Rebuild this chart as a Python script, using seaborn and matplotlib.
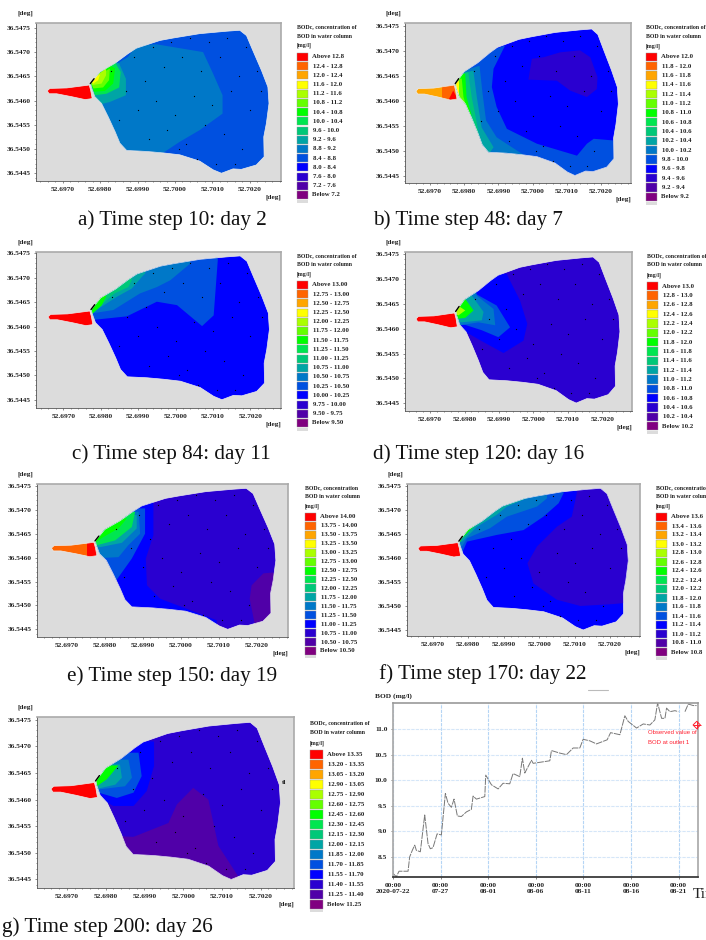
import matplotlib
matplotlib.use("Agg")
import matplotlib.pyplot as plt
import pandas as pd
import seaborn as sns
from matplotlib.lines import Line2D
from matplotlib.patches import Polygon, Rectangle

sns.set_theme(style="white")
plt.rcParams['font.family'] = ['Liberation Serif', 'DejaVu Serif']

W, H = 706, 940

# legend colours, index = legend row (0 = Above ... 15 = Below)
LEVEL_COLORS = ['#ff0000', '#ff6400', '#ffa500', '#ffff00', '#aaff00', '#64ff00', '#00ff00', '#00e650',
                '#00c878', '#00a5a5', '#0078c8', '#0050e0', '#0000ff', '#2a00d0', '#5000a8', '#800080']

# coordinates below: lon = 52.69 + x/1000, lat = 36.54 + y/1000 (milli-degrees)
CHANNEL = [(6.59, 6.20), (6.66, 6.25), (7.11, 6.26), (7.71, 6.32), (7.75, 6.21), (7.79, 6.04),
           (7.60, 6.02), (7.24, 6.08), (6.84, 6.14), (6.64, 6.14)]
LAKE = [(7.75, 6.35), (8.00, 6.59), (8.40, 6.77), (8.75, 6.97), (8.97, 7.08), (9.60, 7.24), (9.95, 7.29),
        (10.66, 7.38), (11.37, 7.43), (11.73, 7.45), (11.91, 7.34), (12.08, 7.03), (12.31, 6.62), (12.48, 6.28),
        (12.51, 5.94), (12.44, 5.53), (12.37, 5.25), (12.38, 4.84), (12.17, 4.67), (11.77, 4.58), (11.55, 4.59),
        (11.24, 4.50), (11.02, 4.57), (10.66, 4.75), (10.13, 4.88), (9.68, 4.92), (9.24, 4.95), (8.71, 4.97),
        (8.53, 5.12), (8.40, 5.36), (8.22, 5.66), (8.04, 5.94), (7.86, 6.08), (7.77, 6.27)]
MESH_X = [8.3, 8.9, 9.4, 9.9, 10.4, 10.9, 11.4, 11.9, 12.2, 8.7, 9.2, 9.7, 10.2, 10.7, 11.2, 11.7, 12.3,
          8.5, 9.0, 9.5, 10.0, 10.5, 11.0, 11.5, 12.0, 9.3, 9.8, 10.3, 10.8, 11.3, 11.8, 10.1, 10.6, 11.1, 11.6]
MESH_Y = [6.6, 6.9, 7.1, 7.2, 7.3, 7.2, 7.3, 7.1, 6.6, 6.2, 6.4, 6.7, 6.9, 6.6, 6.9, 6.5, 6.2,
          5.6, 5.8, 6.0, 5.7, 6.1, 5.9, 6.2, 5.8, 5.2, 5.4, 5.1, 5.5, 5.3, 5.0, 5.0, 4.8, 4.7, 4.7]
INLET_X = [7.74, 7.84]
INLET_Y = [6.35, 6.45]

ZONES_A = [
    (10, [(7.73, 6.42), (8.75, 6.90), (8.84, 7.00), (8.97, 7.14), (9.51, 7.16), (10.75, 7.00), (11.02, 6.55),
          (11.27, 6.11), (11.27, 5.73), (10.66, 5.39), (10.13, 5.15), (9.68, 4.92), (9.51, 4.71), (8.35, 4.71),
          (7.73, 5.87)]),
    (9, [(7.73, 6.00), (8.00, 5.92), (8.26, 5.97), (8.69, 6.11), (8.69, 6.45), (8.51, 6.76), (8.35, 6.83), (7.73, 6.42)]),
    (7, [(7.86, 6.11), (8.17, 6.14), (8.51, 6.27), (8.55, 6.59), (8.40, 6.79), (7.73, 6.42)]),
    (6, [(7.84, 6.18), (8.13, 6.20), (8.35, 6.35), (8.40, 6.66), (8.26, 6.73), (7.73, 6.42)]),
    (5, [(7.82, 6.25), (8.08, 6.27), (8.24, 6.42), (8.26, 6.66), (7.73, 6.42)]),
    (4, [(7.80, 6.32), (8.04, 6.35), (8.16, 6.52), (8.16, 6.66), (7.73, 6.42)]),
    (3, [(7.82, 6.35), (7.95, 6.42), (8.00, 6.54), (7.73, 6.42)]),
]
ZONES_B = [
    (11, [(9.20, 7.12), (8.86, 6.65), (8.81, 6.28), (8.95, 5.88), (9.25, 5.44), (10.13, 5.14), (11.30, 4.90),
          (11.59, 5.14), (11.79, 5.24), (12.47, 5.20), (12.76, 5.20), (12.76, 4.27), (7.39, 4.27), (7.39, 6.68)]),
    (10, [(8.45, 6.71), (8.54, 6.14), (8.64, 5.61), (8.95, 5.27), (9.73, 4.92), (9.64, 4.53), (7.39, 4.53), (7.39, 6.48)]),
    (9, [(8.27, 6.61), (8.37, 6.08), (8.51, 5.47), (8.86, 5.07), (8.66, 4.87), (7.39, 4.87), (7.39, 6.48)]),
    (8, [(8.12, 6.58), (8.22, 6.08), (8.32, 5.74), (8.46, 5.20), (8.58, 5.00), (8.46, 4.87), (7.39, 4.87), (7.39, 6.48)]),
    (6, [(8.03, 6.55), (8.07, 6.08), (8.22, 5.71), (7.39, 5.71), (7.39, 6.48)]),
    (5, [(7.93, 6.45), (7.98, 6.08), (8.07, 5.88), (7.39, 5.88), (7.39, 6.48)]),
    (3, [(7.86, 6.41), (7.86, 6.14), (7.39, 6.14), (7.39, 6.41)]),
    (13, [(9.98, 6.85), (10.32, 6.88), (10.81, 6.98), (11.39, 7.02), (11.69, 6.88), (11.90, 6.48), (11.88, 6.24),
          (11.59, 6.08), (11.10, 6.21), (10.71, 6.41), (9.88, 6.43)]),
]
ZONES_C = [
    (11, [(7.71, 6.13), (8.70, 6.21), (9.50, 6.51), (10.04, 6.44), (10.71, 6.01), (11.02, 6.23), (11.13, 7.36),
          (11.13, 7.56), (7.63, 7.56)]),
    (10, [(7.76, 6.27), (8.34, 6.34), (9.05, 6.68), (9.50, 6.81), (9.86, 6.95), (10.39, 7.29), (10.39, 7.56), (7.63, 7.56)]),
    (9, [(7.76, 6.28), (8.43, 6.61), (8.83, 6.78), (9.10, 7.02), (9.19, 7.09), (9.19, 7.56), (7.63, 7.56)]),
    (8, [(7.79, 6.30), (8.37, 6.68), (8.74, 6.81), (8.83, 6.95), (8.83, 7.56), (7.63, 7.56)]),
    (6, [(7.73, 6.23), (8.03, 6.44), (8.16, 6.64), (7.63, 6.64)]),
]
ZONES_D = [
    (12, [(9.24, 7.08), (9.61, 6.57), (9.82, 6.10), (9.71, 5.76), (9.13, 5.51), (8.55, 5.73), (7.87, 6.00),
          (7.48, 6.00), (7.48, 7.11), (9.24, 7.11)]),
    (11, [(8.31, 6.91), (8.31, 6.71), (8.93, 6.47), (9.32, 6.03), (8.98, 5.83), (8.50, 5.97), (7.92, 6.10), (7.48, 6.10), (7.48, 6.91)]),
    (10, [(8.31, 6.91), (8.35, 6.67), (8.84, 6.40), (8.89, 6.07), (8.40, 6.13), (7.87, 6.07), (7.48, 6.10), (7.48, 6.91)]),
    (9, [(8.21, 6.67), (8.55, 6.34), (8.50, 6.17), (7.92, 6.13), (7.48, 6.17), (7.48, 6.91)]),
    (6, [(8.02, 6.60), (8.26, 6.37), (8.02, 6.22), (7.77, 6.20), (7.50, 6.30), (7.50, 6.90)]),
    (4, [(7.87, 6.44), (8.02, 6.37), (7.82, 6.27), (7.73, 6.30), (7.50, 6.40), (7.60, 6.90)]),
]
ZONES_E = [
    (12, [(9.28, 7.17), (9.28, 6.47), (9.08, 5.98), (9.11, 5.42), (9.46, 5.14), (10.16, 4.93), (10.95, 4.69),
          (10.95, 4.30), (7.44, 4.30), (7.44, 7.17)]),
    (11, [(9.06, 7.03), (9.06, 6.50), (8.71, 5.98), (8.27, 5.49), (7.79, 5.84), (7.44, 5.84), (7.44, 7.03)]),
    (10, [(8.89, 6.96), (8.93, 6.50), (8.62, 6.26), (8.36, 6.01), (7.83, 5.99), (7.44, 6.12), (7.44, 6.96)]),
    (9, [(8.84, 6.89), (8.84, 6.61), (8.45, 6.31), (7.88, 6.22), (7.44, 6.26), (7.44, 6.96)]),
    (7, [(8.80, 6.96), (8.71, 6.64), (8.27, 6.36), (7.79, 6.26), (7.44, 6.26), (7.44, 6.96)]),
    (6, [(8.58, 6.82), (8.36, 6.61), (7.96, 6.43), (7.70, 6.29), (7.44, 6.29), (7.44, 6.82)]),
    (14, [(12.18, 5.67), (12.44, 5.69), (12.61, 5.42), (12.39, 4.79), (11.96, 4.58), (11.82, 5.14), (11.87, 5.42)]),
]
ZONES_F = [
    (13, [(11.06, 7.35), (10.92, 6.86), (10.50, 6.65), (9.94, 6.24), (9.67, 5.89), (9.84, 5.47), (10.50, 5.13),
          (11.16, 5.00), (12.09, 5.04), (12.37, 5.06), (12.66, 5.06), (12.66, 7.62), (11.06, 7.62)]),
    (11, [(10.69, 7.35), (10.55, 7.14), (10.12, 6.86), (9.56, 6.58), (8.81, 6.48), (7.97, 6.34), (7.83, 6.10),
          (7.40, 6.10), (7.40, 7.49), (10.69, 7.49)]),
    (10, [(10.22, 7.24), (9.94, 7.07), (9.09, 6.86), (8.62, 6.62), (7.97, 6.41), (7.83, 6.24), (7.40, 6.24),
          (7.40, 7.49), (10.22, 7.49)]),
    (9, [(9.65, 7.24), (9.09, 7.07), (8.81, 6.90), (8.25, 6.65), (7.83, 6.34), (7.40, 6.31), (7.40, 7.49), (9.65, 7.49)]),
    (6, [(8.25, 6.72), (7.83, 6.41), (7.73, 6.27), (7.40, 6.27), (7.40, 6.79)]),
]
ZONES_G = [
    (14, [(10.26, 6.22), (10.65, 6.00), (10.78, 5.56), (10.91, 5.13), (11.42, 4.56), (11.30, 4.38), (8.29, 4.38),
          (8.37, 5.31), (8.72, 5.30), (9.62, 5.56), (9.84, 5.91)]),
    (12, [(9.25, 7.09), (9.25, 6.63), (9.06, 6.16), (8.72, 5.88), (8.20, 5.88), (7.77, 6.06), (7.43, 6.19), (7.43, 7.13)]),
    (11, [(8.85, 6.88), (8.93, 6.44), (8.72, 6.13), (8.29, 6.03), (7.82, 6.13), (7.43, 6.19), (7.43, 6.88)]),
    (10, [(8.59, 6.75), (8.68, 6.41), (8.50, 6.25), (7.82, 6.19), (7.43, 6.19), (7.43, 6.75)]),
    (9, [(8.37, 6.66), (8.42, 6.41), (8.25, 6.28), (7.77, 6.20), (7.43, 6.20), (7.43, 6.66)]),
    (6, [(8.33, 6.64), (8.03, 6.38), (7.77, 6.25), (7.43, 6.25), (7.43, 6.64)]),
]

CHANNEL_B = [(1, [(7.34, 6.40), (8.00, 6.40), (8.00, 5.90), (7.34, 5.90)]),
             (0, [(7.54, 6.02), (7.68, 6.21), (7.83, 6.01)])]
CHANNEL_E = [(0, [(7.54, 6.40), (8.00, 6.40), (8.00, 5.90), (7.54, 5.90)])]

BREAKS_A = [12.8, 12.4, 12.0, 11.6, 11.2, 10.8, 10.4, 10.0, 9.6, 9.2, 8.8, 8.4, 8.0, 7.6, 7.2]
BREAKS_B = [12.0, 11.8, 11.6, 11.4, 11.2, 11.0, 10.8, 10.6, 10.4, 10.2, 10.0, 9.8, 9.6, 9.4, 9.2]
BREAKS_C = [13.0, 12.75, 12.5, 12.25, 12.0, 11.75, 11.5, 11.25, 11.0, 10.75, 10.5, 10.25, 10.0, 9.75, 9.5]
BREAKS_D = [13.0, 12.8, 12.6, 12.4, 12.2, 12.0, 11.8, 11.6, 11.4, 11.2, 11.0, 10.8, 10.6, 10.4, 10.2]
BREAKS_E = [14.0, 13.75, 13.5, 13.25, 13.0, 12.75, 12.5, 12.25, 12.0, 11.75, 11.5, 11.25, 11.0, 10.75, 10.5]
BREAKS_F = [13.6, 13.4, 13.2, 13.0, 12.8, 12.6, 12.4, 12.2, 12.0, 11.8, 11.6, 11.4, 11.2, 11.0, 10.8]
BREAKS_G = [13.35, 13.2, 13.05, 12.9, 12.75, 12.6, 12.45, 12.3, 12.15, 12.0, 11.85, 11.7, 11.55, 11.4, 11.25]

LON_TICKS = [52.6970, 52.6980, 52.6990, 52.7000, 52.7010, 52.7020]
LAT_TICKS = [36.5445, 36.5450, 36.5455, 36.5460, 36.5465, 36.5470, 36.5475]

CAPTIONS = ["a) Time step 10: day 2", "b) Time step 48: day 7", "c) Time step 84: day 11", "d) Time step 120: day 16",
            "e) Time step 150: day 19", "f) Time step 170: day 22", "g) Time step 200: day 26"]
LEGEND_TITLE = ["BODc, concentration of", "BOD in water column", "[mg/l]"]
LEGEND_TITLE_CUT = ["BODc, concentration", "BOD in water column", "[mg/l]"]

# BOD series at outlet 1, two pieces because the record has a gap
BOD_DAYS_1 = [0, .35, .63, 1.58, 1.75, 2.03, 2.28, 2.45, 2.87, 3.33, 3.68, 3.92, 4.20, 4.63, 5.08, 5.50, 5.78, 6.13,
              6.41, 6.76, 7.18, 7.71, 8.23, 8.41, 8.76, 9.64, 9.74, 10.34, 11.04, 11.56, 12.26, 12.61, 13.31, 13.59,
              13.84, 14.54, 14.72, 16.47, 16.64, 17.52, 18.22, 18.92, 19.62, 19.97, 20.67, 21.37, 22.49, 22.85,
              23.83, 24.35, 24.70, 25.58, 26.28, 26.98, 27.50, 27.79, 28.21, 28.56, 28.73, 29.08, 29.61, 29.96]
BOD_VALS_1 = [8.18, 8.11, 8.22, 8.22, 8.50, 8.63, 8.73, 8.63, 8.60, 9.32, 8.76, 8.66, 8.68, 8.95, 8.93, 9.74, 9.55, 9.47,
              9.63, 9.30, 9.29, 9.38, 9.43, 9.69, 9.63, 9.68, 10.10, 9.91, 9.83, 9.94, 9.93, 10.13, 10.07, 10.43,
              10.14, 10.39, 10.33, 10.38, 10.58, 10.53, 10.50, 10.63, 10.63, 10.80, 10.77, 10.71, 10.79, 10.93,
              10.89, 11.26, 11.15, 11.02, 11.10, 11.08, 11.18, 11.51, 11.21, 11.21, 11.41, 11.34, 11.36, 11.34]
BOD_DAYS_2 = [30.66, 31.01, 31.53, 31.88]
BOD_VALS_2 = [11.34, 11.49, 11.46, 11.46]
OBS_DAY = [31.9]
OBS_BOD = [11.08]
BOD_TICKS = [8.5, 9.0, 9.5, 10.0, 10.5, 11.0]
DATE_TICKS = ["2020-07-22", "2020-07-27", "2020-08-01", "2020-08-06", "2020-08-11", "2020-08-16", "2020-08-21"]
DATE_LABELS = ["2020-07-22", "07-27", "08-01", "08-06", "08-11", "08-16", "08-21"]

# layout, all in pixels of the page: box x0, x1, y0, y1, then axis limits in milli-degrees
PANELS = [
    dict(box=(36, 281, 23, 181), lim=(6.29, 12.83, 4.34, 7.60), zones=ZONES_A, lake=11, channel=0, extra=[],
         breaks=BREAKS_A, dec=1, leg=(297, [27, 37, 45], 57, 9.2, 11), cap=(172, 220), title=LEGEND_TITLE),
    dict(box=(405, 631, 23, 183), lim=(6.27, 12.88, 4.35, 7.57), zones=ZONES_B, lake=12, channel=2, extra=CHANNEL_B,
         breaks=BREAKS_B, dec=1, leg=(646, [27, 37, 46], 57, 9.33, 11), cap=(468, 220), title=LEGEND_TITLE),
    dict(box=(36, 281, 252, 408), lim=(6.27, 12.82, 4.33, 7.53), zones=ZONES_C, lake=12, channel=0, extra=[],
         breaks=BREAKS_C, dec=2, leg=(297, [256, 265, 274], 285, 9.2, 11), cap=(171, 454), title=LEGEND_TITLE),
    dict(box=(405, 632, 252, 411), lim=(6.27, 12.86, 4.34, 7.55), zones=ZONES_D, lake=13, channel=0, extra=[],
         breaks=BREAKS_D, dec=1, leg=(647, [256, 265, 275], 286, 9.35, 11), cap=(479, 454), title=LEGEND_TITLE),
    dict(box=(37, 288, 484, 637), lim=(6.21, 12.83, 4.34, 7.54), zones=ZONES_E, lake=13, channel=1, extra=CHANNEL_E,
         breaks=BREAKS_E, dec=2, leg=(305, [488, 497, 506], 517, 8.93, 11), cap=(172, 676), title=LEGEND_TITLE_CUT),
    dict(box=(407, 640, 484, 636), lim=(6.28, 12.84, 4.375, 7.54), zones=ZONES_F, lake=12, channel=0, extra=[],
         breaks=BREAKS_F, dec=1, leg=(656, [488, 497, 506], 517, 9.0, 11), cap=(483, 674), title=LEGEND_TITLE_CUT),
    dict(box=(37, 294, 717, 888), lim=(6.23, 12.86, 4.34, 7.55), zones=ZONES_G, lake=13, channel=0, extra=[],
         breaks=BREAKS_G, dec=2, leg=(310, [723, 733, 743], 754, 10.0, 13), cap=(107, 927), title=LEGEND_TITLE),
]
TICK_FONT = dict(fontsize=5.3, fontweight='bold', color='#222222')
LEGEND_FONT = dict(fontsize=4.9, fontweight='bold', color='#222222')
TITLE_FONT = dict(fontsize=4.2, fontweight='bold', color='#222222')


def to_deg(points):
    return [(52.69 + x / 1000, 36.54 + y / 1000) for x, y in points]


def axes_at(x0, x1, y0, y1):
    return fig.add_axes([x0 / W, 1 - y1 / H, (x1 - x0) / W, (y1 - y0) / H])


def draw_map(p):
    x0, x1, y0, y1 = p['box']
    ax = axes_at(x0, x1, y0, y1)
    ax.set_facecolor('#dcdcdc')
    lake = ax.add_patch(Polygon(to_deg(LAKE), fc=LEVEL_COLORS[p['lake']], ec='none', zorder=2))
    channel = ax.add_patch(Polygon(to_deg(CHANNEL), fc=LEVEL_COLORS[p['channel']], ec='none', zorder=2))
    for level, pts in p['zones']:
        ax.add_patch(Polygon(to_deg(pts), fc=LEVEL_COLORS[level], ec='none', zorder=3, clip_path=lake))
    for level, pts in p['extra']:
        ax.add_patch(Polygon(to_deg(pts), fc=LEVEL_COLORS[level], ec='none', zorder=3, clip_path=channel))
    # pale rim round the water
    ax.add_patch(Polygon(to_deg(LAKE), fc='none', ec='#ececec', lw=0.5, zorder=4))
    ax.add_patch(Polygon(to_deg(CHANNEL), fc='none', ec='#ececec', lw=0.5, zorder=4))

    mesh = pd.DataFrame(to_deg(zip(MESH_X, MESH_Y)), columns=['lon', 'lat'])
    sns.scatterplot(data=mesh, x='lon', y='lat', s=0.8, color='black', linewidth=0, zorder=5, ax=ax)
    ax.plot(*zip(*to_deg(zip(INLET_X, INLET_Y))), color='black', lw=1.0, zorder=5)

    ax.set_xlim(52.69 + p['lim'][0] / 1000, 52.69 + p['lim'][1] / 1000)
    ax.set_ylim(36.54 + p['lim'][2] / 1000, 36.54 + p['lim'][3] / 1000)
    ax.set_xticks(LON_TICKS, [f"{v:.4f}" for v in LON_TICKS], **TICK_FONT)
    ax.set_yticks(LAT_TICKS, [f"{v:.4f}" for v in LAT_TICKS], **TICK_FONT)
    ax.minorticks_on()
    ax.tick_params(which='both', left=True, bottom=True, length=1.5, width=0.4, pad=2.5, color='#333333')
    ax.tick_params(which='minor', length=1)
    ax.set_xlabel('')
    ax.set_ylabel('')
    for side in ('top', 'right'):
        ax.spines[side].set_color('#aaaaaa')
        ax.spines[side].set_linewidth(1.2)
    for side in ('left', 'bottom'):
        ax.spines[side].set_color('#555555')
        ax.spines[side].set_linewidth(0.6)

    over.text(x0 - 19, y0 - 10, "[deg]", ha='left', va='center', **TICK_FONT)
    over.text(x1, y1 + 16, "[deg]", ha='right', va='center', **TICK_FONT)


def draw_legend(p):
    x, title_ys, first, step, sw = p['leg']
    for ty, t in zip(title_ys, p['title']):
        over.text(x, ty, t, ha='left', va='center', **TITLE_FONT)
    b = p['breaks']
    fmt = f".{p['dec']}f"
    labels = [f"Above {b[0]:{fmt}}"] + [f"{b[i]:{fmt}} - {b[i - 1]:{fmt}}" for i in range(1, len(b))] + [f"Below {b[-1]:{fmt}}"]
    for i, lab in enumerate(labels):
        y = first + i * step
        over.add_patch(Rectangle((x, y - step / 2 + 0.5), sw, step - 1, fc=LEVEL_COLORS[i], ec='#999999', lw=0.3))
        over.text(x + sw + (4 if i in (0, 15) else 5), y, lab, ha='left', va='center', **LEGEND_FONT)
    # undefined-value row, cut off by the page crop
    y = first + 16 * step - step / 2
    over.add_patch(Rectangle((x, y), sw, 3, fc='#dcdcdc', ec='none'))


def draw_bod():
    ax = axes_at(393, 697.7, 703, 877)
    bod = pd.DataFrame({
        'date': pd.Timestamp(DATE_TICKS[0]) + pd.to_timedelta(BOD_DAYS_1 + BOD_DAYS_2, unit='D'),
        'bod': BOD_VALS_1 + BOD_VALS_2,
        'piece': [1] * len(BOD_DAYS_1) + [2] * len(BOD_DAYS_2),
    })
    sns.lineplot(data=bod, x='date', y='bod', units='piece', estimator=None, sort=False,
                 color='#777777', lw=0.7, linestyle=(0, (7, 1)), ax=ax)
    obs = pd.DataFrame({'date': pd.Timestamp(DATE_TICKS[0]) + pd.to_timedelta(OBS_DAY, unit='D'), 'bod': OBS_BOD})
    for marker, size, fc in (('D', 14, 'none'), ('+', 30, '#ff2030')):
        sns.scatterplot(data=obs, x='date', y='bod', marker=marker, s=size, facecolor=fc, edgecolor='#ff2030',
                        linewidth=0.7, clip_on=False, zorder=5, ax=ax)
    ax.set_xlim(pd.Timestamp(DATE_TICKS[0]), pd.Timestamp(DATE_TICKS[0]) + pd.Timedelta(days=32))
    ax.set_ylim(8.107, 11.51)
    ax.set_xticks(pd.to_datetime(DATE_TICKS), [f"00:00\n{d}" for d in DATE_LABELS], linespacing=1.35, **TICK_FONT)
    ax.set_yticks(BOD_TICKS, [f"{v:.1f}" for v in BOD_TICKS], **TICK_FONT)
    ax.tick_params(left=True, bottom=True, length=1.5, width=0.4, pad=2.5)
    ax.set_xlabel('')
    ax.set_ylabel('')
    ax.xaxis.grid(True, color='#b5d5f5', lw=0.8, ls=(0, (3, 1)))
    ax.yaxis.grid(True, color='#d5e6f8', lw=0.8, ls=(0, (3, 1)))
    ax.set_axisbelow(True)
    ax.spines['top'].set_color('#999999')
    ax.spines['top'].set_linewidth(1.2)
    ax.spines['right'].set_color('#aaaaaa')
    ax.spines['left'].set_color('#aaaaaa')
    ax.spines['bottom'].set_color('#333333')

    over.text(375, 696, "BOD (mg/l)", ha='left', va='center', **TICK_FONT)
    for y, t in zip((733, 742), ("Observed value of", "BOD at outlet 1")):
        over.text(648, y, t, ha='left', va='center', color='#ff2030', fontsize=4.3, family='Liberation Sans')
    over.text(693, 894, "Tim", ha='left', va='center', fontsize=11, color='#222222')
    over.add_line(Line2D([588, 608], [690, 690], color='#bbbbbb', lw=0.8))


fig = plt.figure(figsize=(W / 100, H / 100), dpi=100, facecolor='white')
over = fig.add_axes([0, 0, 1, 1], zorder=10)
over.set_xlim(0, W)
over.set_ylim(H, 0)
over.axis('off')
over.patch.set_alpha(0)

for panel, caption in zip(PANELS, CAPTIONS):
    draw_map(panel)
    draw_legend(panel)
    over.text(*panel['cap'], caption, ha='center', va='center', fontsize=15.2, color='#111111')

over.text(284, 783, "tl", ha='center', va='center', **TICK_FONT)
draw_bod()

fig.savefig("out.png", dpi=100, facecolor='white')
